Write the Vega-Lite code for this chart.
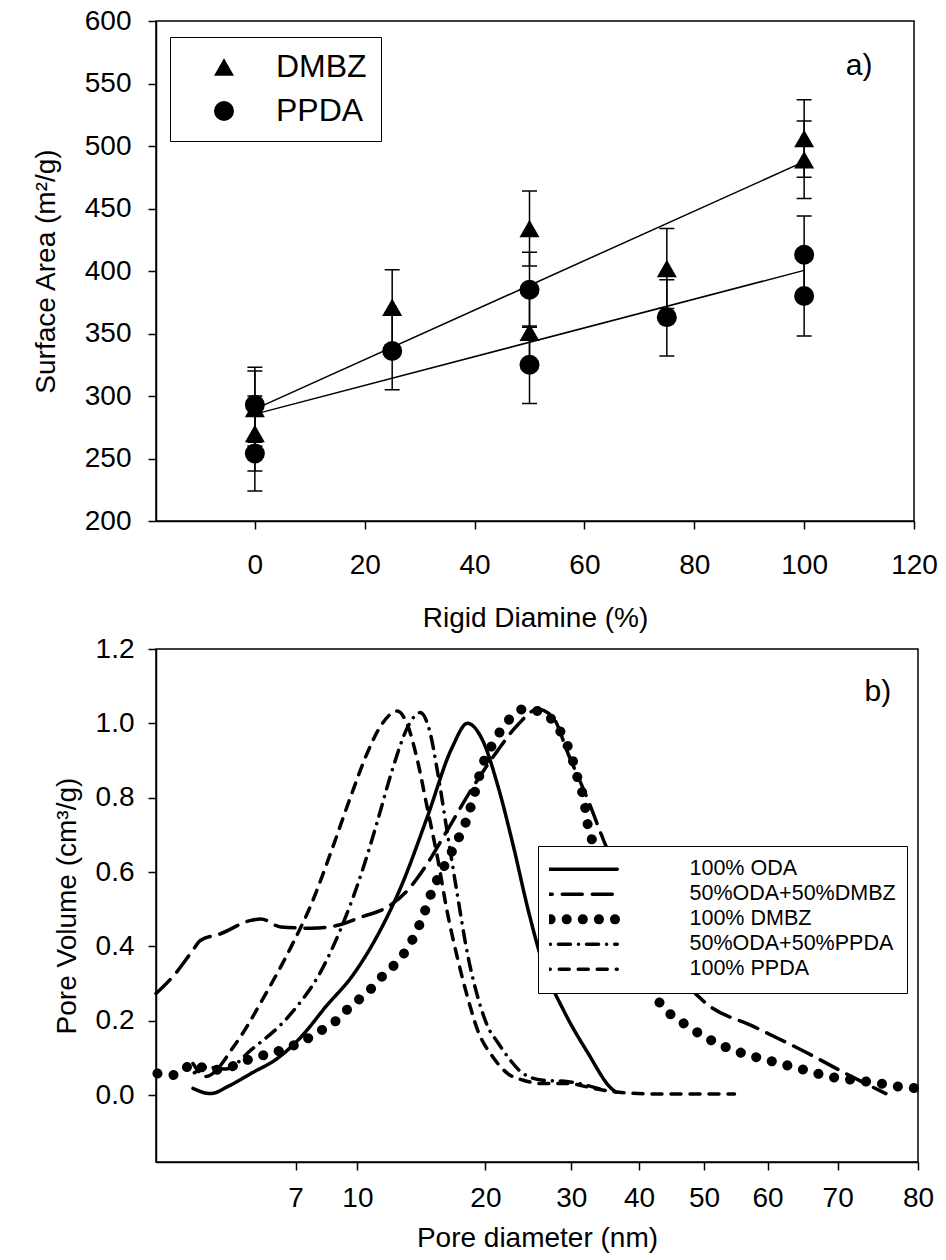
{
  "$schema": "https://vega.github.io/schema/vega-lite/v6.json",
  "background": "white",
  "padding": {"left": 31, "top": 6, "right": 4, "bottom": 0},
  "spacing": 1,
  "config": {
    "font": "Liberation Sans",
    "view": {"stroke": "black", "strokeWidth": 1.5},
    "axis": {"grid": false, "domainColor": "black", "domainWidth": 1.5, "tickColor": "black", "tickWidth": 1.5, "tickSize": 8, "labelColor": "black", "titleColor": "black", "labelFont": "Liberation Sans", "titleFont": "Liberation Sans", "labelFontSize": 28, "titleFontSize": 28, "titleFontWeight": "normal", "labelFlush": false, "labelOverlap": false},
    "legend": {"labelFont": "Liberation Sans", "labelColor": "black"}
  },
  "datasets": {
    "area": [
      {"series": "DMBZ", "x": 0, "y": 290, "lo": 260, "hi": 320},
      {"series": "DMBZ", "x": 0, "y": 270, "lo": 240, "hi": 300},
      {"series": "DMBZ", "x": 25, "y": 371, "lo": 341, "hi": 401},
      {"series": "DMBZ", "x": 50, "y": 434, "lo": 404, "hi": 464},
      {"series": "DMBZ", "x": 50, "y": 351, "lo": 321, "hi": 381},
      {"series": "DMBZ", "x": 75, "y": 402, "lo": 370, "hi": 434},
      {"series": "DMBZ", "x": 100, "y": 506, "lo": 475, "hi": 537},
      {"series": "DMBZ", "x": 100, "y": 489, "lo": 458, "hi": 520},
      {"series": "PPDA", "x": 0, "y": 293, "lo": 263, "hi": 323},
      {"series": "PPDA", "x": 0, "y": 254, "lo": 224, "hi": 284},
      {"series": "PPDA", "x": 25, "y": 336, "lo": 305, "hi": 367},
      {"series": "PPDA", "x": 50, "y": 385, "lo": 355, "hi": 415},
      {"series": "PPDA", "x": 50, "y": 325, "lo": 294, "hi": 356},
      {"series": "PPDA", "x": 75, "y": 363, "lo": 332, "hi": 393},
      {"series": "PPDA", "x": 100, "y": 413, "lo": 382, "hi": 444},
      {"series": "PPDA", "x": 100, "y": 380, "lo": 348, "hi": 412}
    ],
    "fits": [
      {"series": "DMBZ", "x": 0, "y": 289.5},
      {"series": "DMBZ", "x": 100, "y": 487.5},
      {"series": "PPDA", "x": 0, "y": 285.5},
      {"series": "PPDA", "x": 100, "y": 400.5}
    ],
    "tagA": [{"x": 110, "y": 564, "t": "a)"}],
    "tagB": [{"d": 75, "v": 1.085, "t": "b)"}],
    "pv": [
      {"series": "100% ODA", "d": 4.06, "v": 0.018},
      {"series": "100% ODA", "d": 4.56, "v": 0.004},
      {"series": "100% ODA", "d": 5.1, "v": 0.025},
      {"series": "100% ODA", "d": 5.72, "v": 0.058},
      {"series": "100% ODA", "d": 6.5, "v": 0.1},
      {"series": "100% ODA", "d": 7.28, "v": 0.157},
      {"series": "100% ODA", "d": 8.5, "v": 0.24},
      {"series": "100% ODA", "d": 9.72, "v": 0.318},
      {"series": "100% ODA", "d": 11.5, "v": 0.425},
      {"series": "100% ODA", "d": 13.5, "v": 0.568},
      {"series": "100% ODA", "d": 15.45, "v": 0.747},
      {"series": "100% ODA", "d": 17.4, "v": 0.935},
      {"series": "100% ODA", "d": 18.6, "v": 1.0},
      {"series": "100% ODA", "d": 19.8, "v": 0.953},
      {"series": "100% ODA", "d": 21.4, "v": 0.836},
      {"series": "100% ODA", "d": 23.2, "v": 0.675},
      {"series": "100% ODA", "d": 25.0, "v": 0.496},
      {"series": "100% ODA", "d": 26.7, "v": 0.353},
      {"series": "100% ODA", "d": 29.1, "v": 0.228},
      {"series": "100% ODA", "d": 32.5, "v": 0.112},
      {"series": "100% ODA", "d": 35.9, "v": 0.018},
      {"series": "100% ODA", "d": 36.6, "v": 0.008},

      {"series": "50%ODA+50%DMBZ", "d": 3.0, "v": 0.273},
      {"series": "50%ODA+50%DMBZ", "d": 3.55, "v": 0.326},
      {"series": "50%ODA+50%DMBZ", "d": 4.06, "v": 0.39},
      {"series": "50%ODA+50%DMBZ", "d": 4.27, "v": 0.416},
      {"series": "50%ODA+50%DMBZ", "d": 4.85, "v": 0.434},
      {"series": "50%ODA+50%DMBZ", "d": 5.72, "v": 0.47},
      {"series": "50%ODA+50%DMBZ", "d": 6.01, "v": 0.474},
      {"series": "50%ODA+50%DMBZ", "d": 6.58, "v": 0.452},
      {"series": "50%ODA+50%DMBZ", "d": 7.77, "v": 0.449},
      {"series": "50%ODA+50%DMBZ", "d": 8.99, "v": 0.456},
      {"series": "50%ODA+50%DMBZ", "d": 10.3, "v": 0.479},
      {"series": "50%ODA+50%DMBZ", "d": 12.3, "v": 0.505},
      {"series": "50%ODA+50%DMBZ", "d": 13.9, "v": 0.55},
      {"series": "50%ODA+50%DMBZ", "d": 15.45, "v": 0.622},
      {"series": "50%ODA+50%DMBZ", "d": 17.0, "v": 0.711},
      {"series": "50%ODA+50%DMBZ", "d": 19.0, "v": 0.827},
      {"series": "50%ODA+50%DMBZ", "d": 21.4, "v": 0.926},
      {"series": "50%ODA+50%DMBZ", "d": 23.8, "v": 0.997},
      {"series": "50%ODA+50%DMBZ", "d": 26.1, "v": 1.038},
      {"series": "50%ODA+50%DMBZ", "d": 27.9, "v": 1.015},
      {"series": "50%ODA+50%DMBZ", "d": 29.65, "v": 0.917},
      {"series": "50%ODA+50%DMBZ", "d": 32.5, "v": 0.792},
      {"series": "50%ODA+50%DMBZ", "d": 34.8, "v": 0.684},
      {"series": "50%ODA+50%DMBZ", "d": 50.1, "v": 0.25},
      {"series": "50%ODA+50%DMBZ", "d": 58.0, "v": 0.183},
      {"series": "50%ODA+50%DMBZ", "d": 65.4, "v": 0.116},
      {"series": "50%ODA+50%DMBZ", "d": 71.0, "v": 0.058},
      {"series": "50%ODA+50%DMBZ", "d": 76.0, "v": 0.004},

      {"series": "50%ODA+50%PPDA", "d": 4.1, "v": 0.06},
      {"series": "50%ODA+50%PPDA", "d": 4.5, "v": 0.075},
      {"series": "50%ODA+50%PPDA", "d": 5.0, "v": 0.07},
      {"series": "50%ODA+50%PPDA", "d": 5.72, "v": 0.121},
      {"series": "50%ODA+50%PPDA", "d": 6.87, "v": 0.219},
      {"series": "50%ODA+50%PPDA", "d": 8.25, "v": 0.335},
      {"series": "50%ODA+50%PPDA", "d": 9.23, "v": 0.452},
      {"series": "50%ODA+50%PPDA", "d": 10.3, "v": 0.595},
      {"series": "50%ODA+50%PPDA", "d": 11.5, "v": 0.729},
      {"series": "50%ODA+50%PPDA", "d": 12.7, "v": 0.872},
      {"series": "50%ODA+50%PPDA", "d": 13.9, "v": 0.988},
      {"series": "50%ODA+50%PPDA", "d": 14.9, "v": 1.029},
      {"series": "50%ODA+50%PPDA", "d": 15.65, "v": 0.979},
      {"series": "50%ODA+50%PPDA", "d": 16.25, "v": 0.872},
      {"series": "50%ODA+50%PPDA", "d": 17.0, "v": 0.711},
      {"series": "50%ODA+50%PPDA", "d": 17.8, "v": 0.541},
      {"series": "50%ODA+50%PPDA", "d": 18.6, "v": 0.38},
      {"series": "50%ODA+50%PPDA", "d": 19.4, "v": 0.264},
      {"series": "50%ODA+50%PPDA", "d": 20.3, "v": 0.183},
      {"series": "50%ODA+50%PPDA", "d": 21.4, "v": 0.143},
      {"series": "50%ODA+50%PPDA", "d": 22.6, "v": 0.103},
      {"series": "50%ODA+50%PPDA", "d": 24.4, "v": 0.058},
      {"series": "50%ODA+50%PPDA", "d": 26.7, "v": 0.04},
      {"series": "50%ODA+50%PPDA", "d": 29.65, "v": 0.036},
      {"series": "50%ODA+50%PPDA", "d": 34.8, "v": 0.013},

      {"series": "100% PPDA", "d": 4.06, "v": 0.085},
      {"series": "100% PPDA", "d": 4.42, "v": 0.05},
      {"series": "100% PPDA", "d": 5.29, "v": 0.139},
      {"series": "100% PPDA", "d": 6.15, "v": 0.273},
      {"series": "100% PPDA", "d": 6.87, "v": 0.398},
      {"series": "100% PPDA", "d": 7.77, "v": 0.514},
      {"series": "100% PPDA", "d": 8.74, "v": 0.657},
      {"series": "100% PPDA", "d": 9.72, "v": 0.81},
      {"series": "100% PPDA", "d": 10.73, "v": 0.917},
      {"series": "100% PPDA", "d": 11.9, "v": 0.997},
      {"series": "100% PPDA", "d": 13.1, "v": 1.033},
      {"series": "100% PPDA", "d": 13.9, "v": 0.997},
      {"series": "100% PPDA", "d": 14.7, "v": 0.899},
      {"series": "100% PPDA", "d": 15.45, "v": 0.774},
      {"series": "100% PPDA", "d": 16.25, "v": 0.64},
      {"series": "100% PPDA", "d": 17.0, "v": 0.496},
      {"series": "100% PPDA", "d": 17.8, "v": 0.371},
      {"series": "100% PPDA", "d": 18.6, "v": 0.264},
      {"series": "100% PPDA", "d": 19.4, "v": 0.174},
      {"series": "100% PPDA", "d": 20.85, "v": 0.103},
      {"series": "100% PPDA", "d": 22.6, "v": 0.058},
      {"series": "100% PPDA", "d": 24.4, "v": 0.04},
      {"series": "100% PPDA", "d": 26.7, "v": 0.031},
      {"series": "100% PPDA", "d": 29.65, "v": 0.031},
      {"series": "100% PPDA", "d": 33.3, "v": 0.018},
      {"series": "100% PPDA", "d": 36.3, "v": 0.009},
      {"series": "100% PPDA", "d": 42.3, "v": 0.003},
      {"series": "100% PPDA", "d": 50.1, "v": 0.003},
      {"series": "100% PPDA", "d": 54.8, "v": 0.003}
    ],
    "pvd": [
      {"series": "100% DMBZ", "d": 3.04, "v": 0.058},
      {"series": "100% DMBZ", "d": 3.55, "v": 0.054},
      {"series": "100% DMBZ", "d": 4.06, "v": 0.083},
      {"series": "100% DMBZ", "d": 4.56, "v": 0.067},
      {"series": "100% DMBZ", "d": 5.14, "v": 0.076},
      {"series": "100% DMBZ", "d": 5.72, "v": 0.098},
      {"series": "100% DMBZ", "d": 6.44, "v": 0.116},
      {"series": "100% DMBZ", "d": 7.28, "v": 0.143},
      {"series": "100% DMBZ", "d": 8.25, "v": 0.174},
      {"series": "100% DMBZ", "d": 8.99, "v": 0.201},
      {"series": "100% DMBZ", "d": 9.72, "v": 0.242},
      {"series": "100% DMBZ", "d": 10.7, "v": 0.273},
      {"series": "100% DMBZ", "d": 11.9, "v": 0.318},
      {"series": "100% DMBZ", "d": 13.1, "v": 0.358},
      {"series": "100% DMBZ", "d": 13.9, "v": 0.394},
      {"series": "100% DMBZ", "d": 15.1, "v": 0.479},
      {"series": "100% DMBZ", "d": 15.85, "v": 0.55},
      {"series": "100% DMBZ", "d": 17.0, "v": 0.63},
      {"series": "100% DMBZ", "d": 17.8, "v": 0.684},
      {"series": "100% DMBZ", "d": 18.6, "v": 0.747},
      {"series": "100% DMBZ", "d": 19.2, "v": 0.818},
      {"series": "100% DMBZ", "d": 19.8, "v": 0.89},
      {"series": "100% DMBZ", "d": 20.85, "v": 0.944},
      {"series": "100% DMBZ", "d": 22.6, "v": 1.006},
      {"series": "100% DMBZ", "d": 24.4, "v": 1.038},
      {"series": "100% DMBZ", "d": 26.1, "v": 1.033},
      {"series": "100% DMBZ", "d": 27.9, "v": 1.006},
      {"series": "100% DMBZ", "d": 29.1, "v": 0.962},
      {"series": "100% DMBZ", "d": 29.95, "v": 0.917},
      {"series": "100% DMBZ", "d": 31.05, "v": 0.845},
      {"series": "100% DMBZ", "d": 31.8, "v": 0.8},
      {"series": "100% DMBZ", "d": 32.5, "v": 0.72},
      {"series": "100% DMBZ", "d": 33.3, "v": 0.675},
      {"series": "100% DMBZ", "d": 43.9, "v": 0.233},
      {"series": "100% DMBZ", "d": 46.95, "v": 0.192},
      {"series": "100% DMBZ", "d": 50.1, "v": 0.157},
      {"series": "100% DMBZ", "d": 54.0, "v": 0.125},
      {"series": "100% DMBZ", "d": 58.0, "v": 0.103},
      {"series": "100% DMBZ", "d": 61.8, "v": 0.085},
      {"series": "100% DMBZ", "d": 65.4, "v": 0.067},
      {"series": "100% DMBZ", "d": 69.0, "v": 0.049},
      {"series": "100% DMBZ", "d": 72.2, "v": 0.04},
      {"series": "100% DMBZ", "d": 75.4, "v": 0.031},
      {"series": "100% DMBZ", "d": 77.9, "v": 0.022},
      {"series": "100% DMBZ", "d": 80.0, "v": 0.018}
    ]
  },
  "vconcat": [
    {
      "width": 758,
      "height": 500,
      "encoding": {
        "x": {"field": "x", "type": "quantitative", "title": "Rigid Diamine (%)",
              "scale": {"domain": [-18, 120], "nice": false, "zero": false},
              "axis": {"values": [0, 20, 40, 60, 80, 100, 120], "labelPadding": 22, "titlePadding": 25}}
      },
      "layer": [
        {
          "data": {"name": "area"},
          "mark": {"type": "rule", "color": "black", "strokeWidth": 1.5},
          "encoding": {
            "y": {"field": "lo", "type": "quantitative", "title": "Surface Area (m²/g)",
                  "scale": {"domain": [200, 600], "nice": false, "zero": false},
                  "axis": {"values": [200, 250, 300, 350, 400, 450, 500, 550, 600], "labelPadding": 17, "titlePadding": 24}},
            "y2": {"field": "hi"}
          }
        },
        {
          "data": {"name": "area"},
          "mark": {"type": "tick", "color": "black", "thickness": 1.5, "size": 15, "orient": "horizontal", "opacity": 1},
          "encoding": {"y": {"field": "lo", "type": "quantitative", "title": "Surface Area (m²/g)"}}
        },
        {
          "data": {"name": "area"},
          "mark": {"type": "tick", "color": "black", "thickness": 1.5, "size": 15, "orient": "horizontal", "opacity": 1},
          "encoding": {"y": {"field": "hi", "type": "quantitative", "title": "Surface Area (m²/g)"}}
        },
        {
          "data": {"name": "fits"},
          "mark": {"type": "line", "color": "black", "strokeWidth": 1.5},
          "encoding": {
            "y": {"field": "y", "type": "quantitative", "title": "Surface Area (m²/g)"},
            "detail": {"field": "series", "type": "nominal"}
          }
        },
        {
          "data": {"name": "area"},
          "mark": {"type": "point", "filled": true, "size": 400, "color": "black", "opacity": 1},
          "encoding": {
            "y": {"field": "y", "type": "quantitative", "title": "Surface Area (m²/g)"},
            "shape": {"field": "series", "type": "nominal",
                      "scale": {"domain": ["DMBZ", "PPDA"], "range": ["triangle-up", "circle"]},
                      "legend": {"orient": "none", "legendX": 14, "legendY": 16, "title": null,
                                 "symbolSize": 400, "symbolFillColor": "black", "symbolStrokeColor": "black", "symbolStrokeWidth": 0,
                                 "labelFontSize": 32, "padding": 14, "rowPadding": 12, "symbolOffset": 24, "labelOffset": 36,
                                 "strokeColor": "black", "fillColor": "white"}}
          }
        },
        {
          "data": {"name": "tagA"},
          "mark": {"type": "text", "fontSize": 30, "color": "black", "align": "center", "baseline": "middle"},
          "encoding": {
            "y": {"field": "y", "type": "quantitative", "title": "Surface Area (m²/g)"},
            "text": {"field": "t"}
          }
        }
      ]
    },
    {
      "width": 762,
      "height": 513,
      "encoding": {
        "x": {"field": "d", "type": "quantitative", "title": "Pore diameter (nm)",
              "scale": {"type": "linear", "domain": [3, 7, 10, 20, 30, 40, 50, 60, 70, 80],
                        "range": [0, 139.5, 201.4, 329.4, 415.3, 483, 548, 611.5, 681.7, 762], "nice": false, "zero": false},
              "axis": {"values": [7, 10, 20, 30, 40, 50, 60, 70, 80], "labelPadding": 14, "titlePadding": 12}},
        "y": {"field": "v", "type": "quantitative", "title": "Pore Volume (cm³/g)",
              "scale": {"domain": [-0.18, 1.2], "nice": false, "zero": false},
              "axis": {"values": [0, 0.2, 0.4, 0.6, 0.8, 1.0, 1.2], "format": ".1f", "labelPadding": 14, "titlePadding": 14}}
      },
      "layer": [
        {
          "data": {"name": "pv"},
          "mark": {"type": "line", "color": "black", "strokeWidth": 3.5, "strokeCap": "round", "interpolate": "monotone"},
          "encoding": {
            "strokeDash": {"field": "series", "type": "nominal",
              "scale": {"domain": ["100% ODA", "50%ODA+50%DMBZ", "100% DMBZ", "50%ODA+50%PPDA", "100% PPDA"],
                        "range": [[1, 0], [20, 10], [0.1, 16], [12, 8, 0.1, 8], [10, 9]]},
              "legend": {"orient": "none", "legendX": 382, "legendY": 825, "title": null,
                         "symbolType": "stroke", "symbolSize": 13225, "symbolStrokeWidth": 3.5, "symbolStrokeColor": "black",
                         "clipHeight": 24.7, "rowPadding": 0, "padding": 11, "labelOffset": 119, "labelFontSize": 21.5, "labelLimit": 400,
                         "fillColor": "white", "strokeColor": "black",
                         "encode": {"symbols": {"update": {"strokeWidth": {"signal": "datum.value === '100% DMBZ' ? 10 : 3.5"}, "strokeCap": {"value": "round"}, "stroke": {"value": "black"}}}}}
            }
          }
        },
        {
          "data": {"name": "pvd"},
          "mark": {"type": "line", "color": "black", "strokeWidth": 10, "strokeCap": "round", "interpolate": "monotone"},
          "encoding": {
            "strokeDash": {"field": "series", "type": "nominal"}
          }
        },
        {
          "data": {"name": "tagB"},
          "mark": {"type": "text", "fontSize": 30, "color": "black", "align": "center", "baseline": "middle"},
          "encoding": {"text": {"field": "t"}}
        }
      ]
    }
  ]
}
